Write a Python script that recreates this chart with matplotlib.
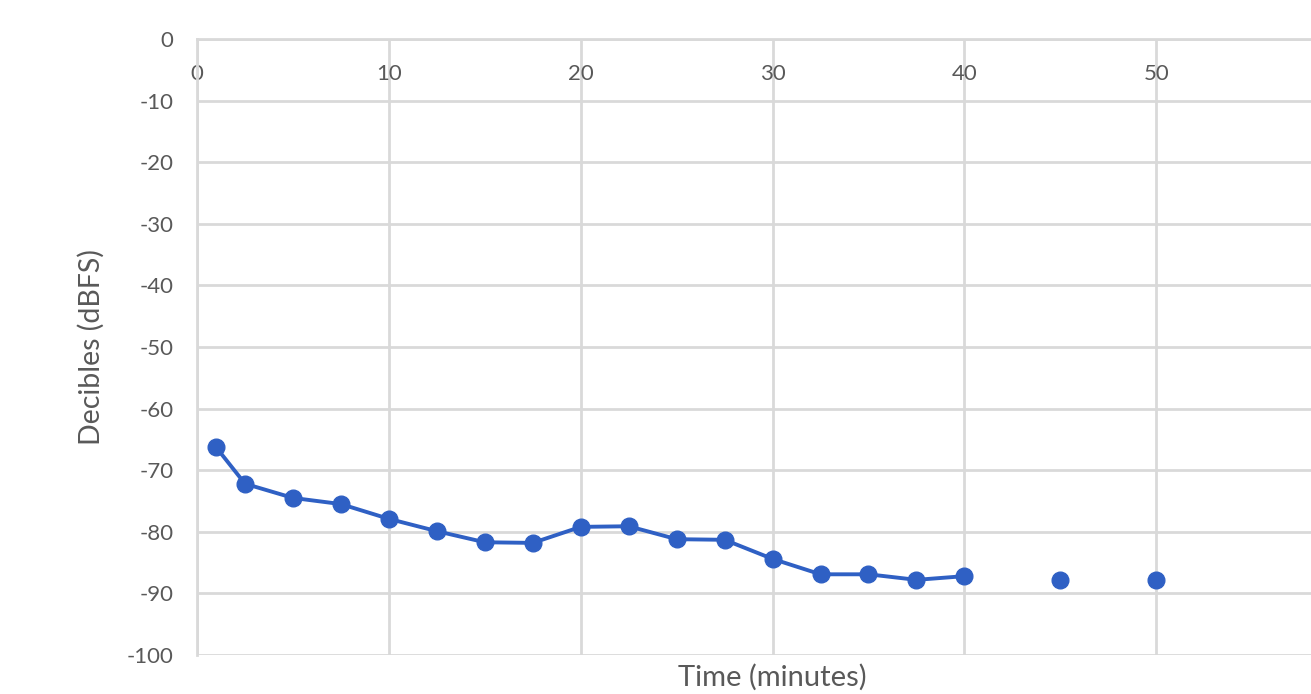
import numpy as np
import matplotlib.pyplot as plt

plt.rcParams['font.family'] = ['Lato', 'DejaVu Sans']
plt.rcParams['axes.unicode_minus'] = False

# sample times (minutes) and measured level (dBFS)
time_connected = [1, 2.5, 5, 7.5, 10, 12.5, 15, 17.5, 20, 22.5,
                  25, 27.5, 30, 32.5, 35, 37.5, 40]
level_connected = [-66.3, -72.2, -74.5, -75.5, -77.9, -79.9, -81.7, -81.8, -79.2, -79.1,
                   -81.2, -81.3, -84.4, -86.9, -86.9, -87.8, -87.2]
time_single = [45, 50]
level_single = [-87.8, -87.8]

x_ticks = [0, 10, 20, 30, 40, 50]
y_ticks = np.arange(-100, 1, 10)

blue = '#2f60c4'
text_grey = '#595959'
grid_grey = '#d9d9d9'

fig = plt.figure(figsize=(13.11, 6.94), dpi=100)
ax = fig.add_axes([0.1503, 0.0562, 0.878, 0.8876])

ax.plot(time_connected, level_connected, color=blue, linewidth=2.8,
        marker='o', markersize=12, zorder=3)
ax.plot(time_single, level_single, color=blue, linestyle='none',
        marker='o', markersize=12, zorder=3)

ax.set_xlim(0, 60)
ax.set_ylim(-100, 0)
ax.set_xticks(x_ticks)
ax.set_yticks(y_ticks)

# horizontal axis crosses at 0 dB, labels sit just under it
ax.spines['bottom'].set_position(('data', 0))
ax.spines['bottom'].set_color(grid_grey)
ax.spines['bottom'].set_linewidth(2)
ax.spines['left'].set_color(grid_grey)
ax.spines['left'].set_linewidth(2)
ax.spines['top'].set_visible(False)
ax.spines['right'].set_visible(False)

ax.tick_params(axis='x', length=0, pad=18, labelsize=16, labelcolor=text_grey)
ax.tick_params(axis='y', length=0, pad=17, labelsize=16, labelcolor=text_grey)

ax.grid(True, color=grid_grey, linewidth=2)
ax.set_axisbelow(True)

ax.set_xlabel('Time (minutes)', fontsize=21, color=text_grey)
ax.xaxis.set_label_coords(0.5, -0.015)
ax.set_ylabel('Decibles (dBFS)', fontsize=20.5, color=text_grey)
ax.yaxis.set_label_coords(-0.08, 0.5)

fig.savefig('out.png', dpi=100)
